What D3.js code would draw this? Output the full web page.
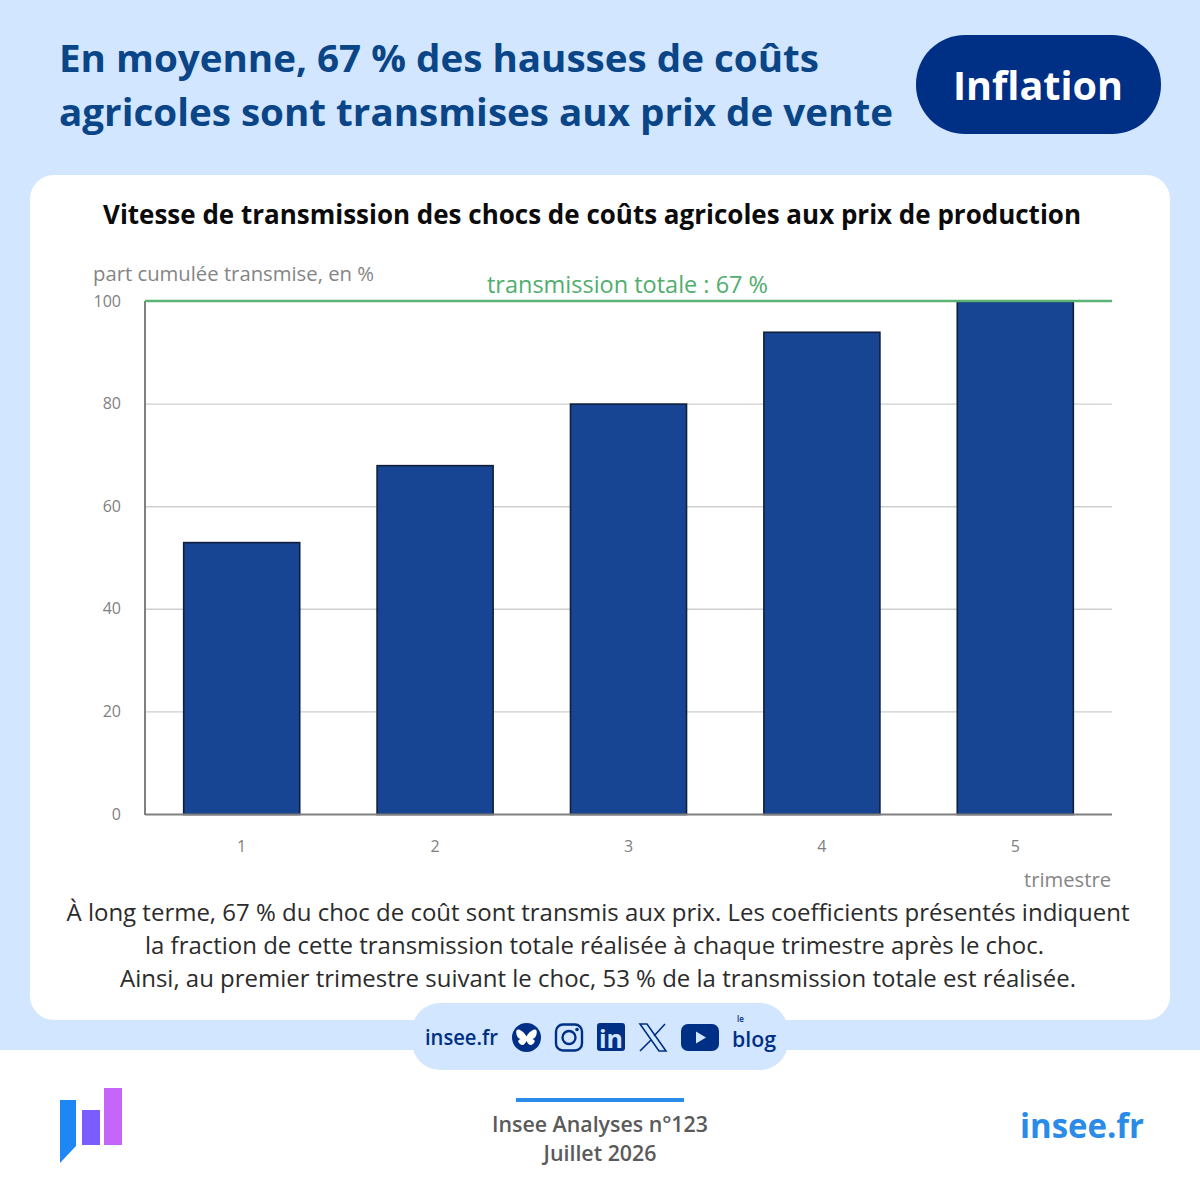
<!DOCTYPE html>
<html>
<head>
<meta charset="utf-8">
<script src="https://cdn.jsdelivr.net/npm/d3@7"></script>
<style>
  html, body { margin: 0; padding: 0; background: #fff; }
  svg { display: block; }
  text { font-family: "Open Sans", sans-serif; }
</style>
</head>
<body>
<div id="chart"></div>
<script>
const trimestres = ["1", "2", "3", "4", "5"];
const partCumulee = [53, 68, 80, 94, 100];
const yTicks = [0, 20, 40, 60, 80, 100];
const titleLines = ["En moyenne, 67 % des hausses de coûts", "agricoles sont transmises aux prix de vente"];
const noteLines = [
  "À long terme, 67 % du choc de coût sont transmis aux prix. Les coefficients présentés indiquent",
  "la fraction de cette transmission totale réalisée à chaque trimestre après le choc.",
  "Ainsi, au premier trimestre suivant le choc, 53 % de la transmission totale est réalisée."
];
const logoBars = [[60, 1100, 1163], [82, 1110, 1145], [104, 1088, 1145]];

const svg = d3.select("#chart").append("svg").attr("width", 1200).attr("height", 1200);

const navy = "#002f86", titleBlue = "#0a4587", pale = "#d2e6ff";

svg.append("rect").attr("width", 1200).attr("height", 1050).attr("fill", pale);
svg.append("rect").attr("x", 30).attr("y", 175).attr("width", 1140).attr("height", 845).attr("rx", 24).attr("fill", "#fff");

// header
svg.selectAll("text.title").data(titleLines).join("text").attr("class", "title")
  .attr("x", 59).attr("y", (d, i) => 72 + i * 54)
  .attr("font-size", 38).attr("font-weight", 700).attr("fill", titleBlue)
  .attr("textLength", (d, i) => i ? 834 : 760).attr("lengthAdjust", "spacingAndGlyphs")
  .text(d => d);

svg.append("rect").attr("x", 916).attr("y", 35).attr("width", 245).attr("height", 99).attr("rx", 49).attr("fill", navy);
svg.append("text").attr("x", 1038).attr("y", 100).attr("text-anchor", "middle")
  .attr("font-size", 40).attr("font-weight", 700).attr("fill", "#fff")
  .attr("textLength", 170).attr("lengthAdjust", "spacingAndGlyphs").text("Inflation");

svg.append("text").attr("x", 592).attr("y", 224).attr("text-anchor", "middle")
  .attr("font-size", 26).attr("font-weight", 700).attr("fill", "#0b0b0b")
  .attr("textLength", 978).attr("lengthAdjust", "spacingAndGlyphs")
  .text("Vitesse de transmission des chocs de coûts agricoles aux prix de production");

// chart
const x = d3.scaleBand().domain(trimestres).range([145, 1112]).paddingInner(0.4).paddingOuter(0.2);
const y = d3.scaleLinear().domain([0, 100]).range([814.5, 301.5]);
const plot = svg.append("g");

plot.selectAll("line.grid").data(yTicks.slice(1, -1)).join("line").attr("class", "grid")
  .attr("x1", 145).attr("x2", 1112).attr("y1", d => y(d)).attr("y2", d => y(d))
  .attr("stroke", "#cfcfcf").attr("stroke-width", 1.4);

plot.selectAll("rect.bar").data(partCumulee).join("rect").attr("class", "bar")
  .attr("x", (d, i) => x(trimestres[i])).attr("width", x.bandwidth())
  .attr("y", d => y(d)).attr("height", d => y(0) - y(d))
  .attr("fill", "#174593").attr("stroke", "#10203c").attr("stroke-width", 1.6);

const axisColor = "#808080";
plot.append("line").attr("x1", 145).attr("x2", 145).attr("y1", 301).attr("y2", 815).attr("stroke", axisColor).attr("stroke-width", 2);
plot.append("line").attr("x1", 145).attr("x2", 1112).attr("y1", 814.5).attr("y2", 814.5).attr("stroke", axisColor).attr("stroke-width", 2);
plot.append("line").attr("x1", 145).attr("x2", 1112).attr("y1", 301).attr("y2", 301).attr("stroke", "#5bb376").attr("stroke-width", 2.4);

plot.selectAll("text.ytick").data(yTicks).join("text").attr("class", "ytick")
  .attr("x", 121).attr("y", d => y(d) + 5).attr("text-anchor", "end")
  .attr("font-size", 16).attr("fill", "#808080").text(d => d);
plot.selectAll("text.xtick").data(trimestres).join("text").attr("class", "xtick")
  .attr("x", d => x(d) + x.bandwidth() / 2).attr("y", 852).attr("text-anchor", "middle")
  .attr("font-size", 16).attr("fill", "#808080").text(d => d);

plot.append("text").attr("x", 93).attr("y", 281).attr("font-size", 20).attr("fill", "#858585")
  .attr("textLength", 281).attr("lengthAdjust", "spacingAndGlyphs").text("part cumulée transmise, en %");
plot.append("text").attr("x", 487).attr("y", 293).attr("font-size", 23).attr("fill", "#4fae6d")
  .attr("textLength", 281).attr("lengthAdjust", "spacingAndGlyphs").text("transmission totale : 67 %");
plot.append("text").attr("x", 1111).attr("y", 887).attr("text-anchor", "end").attr("font-size", 20).attr("fill", "#858585")
  .attr("textLength", 87).attr("lengthAdjust", "spacingAndGlyphs").text("trimestre");

// note
svg.selectAll("text.note").data(noteLines).join("text").attr("class", "note")
  .attr("x", (d, i) => [598, 594.5, 598][i]).attr("y", (d, i) => 921 + i * 33).attr("text-anchor", "middle")
  .attr("font-size", 24).attr("fill", "#2b2b2b")
  .attr("textLength", (d, i) => [1063, 899, 956][i]).attr("lengthAdjust", "spacingAndGlyphs")
  .text(d => d);

// social strip
svg.append("rect").attr("x", 412).attr("y", 1003).attr("width", 376).attr("height", 67).attr("rx", 28).attr("fill", pale);
svg.append("text").attr("x", 425).attr("y", 1045).attr("font-size", 21).attr("font-weight", 600).attr("fill", navy)
  .attr("textLength", 73).attr("lengthAdjust", "spacingAndGlyphs").text("insee.fr");

const icons = svg.append("g");
// bluesky
icons.append("circle").attr("cx", 526.5).attr("cy", 1037.5).attr("r", 14.5).attr("fill", navy);
icons.append("path").attr("fill", "#fff")
  .attr("d", "M526.5 1036.5c-1.5-3-5-6.5-8-7-2-.2-2.5 1.500-2.200 3.500.4 3 1.500 5.500 4.700 6-3 .5-3.500 2.500-1.500 4.500 3 3 5.500 1 7-2.500 1.500 3.500 4 5.500 7 2.500 2-2 1.500-4-1.500-4.500 3.200-.5 4.300-3 4.700-6 .3-2-.2-3.700-2.200-3.500-3 .5-6.500 4-8 7z");
// instagram
icons.append("rect").attr("x", 556).attr("y", 1024.500).attr("width", 26).attr("height", 26).attr("rx", 7).attr("fill", "none").attr("stroke", navy).attr("stroke-width", 2.4);
icons.append("circle").attr("cx", 569).attr("cy", 1037.5).attr("r", 6.5).attr("fill", "none").attr("stroke", navy).attr("stroke-width", 2.4);
icons.append("circle").attr("cx", 577).attr("cy", 1029.5).attr("r", 1.8).attr("fill", navy);
// linkedin
icons.append("rect").attr("x", 597).attr("y", 1023).attr("width", 28).attr("height", 28).attr("rx", 3).attr("fill", navy);
icons.append("text").attr("x", 611).attr("y", 1048).attr("text-anchor", "middle").attr("font-size", 25).attr("font-weight", 700).attr("fill", pale).text("in");
// x
icons.append("path").attr("fill", "none").attr("stroke", navy).attr("stroke-width", 1.6)
  .attr("d", "M640 1024h7l19 27h-7zM665 1024l-11 12M651 1040l-11 11");
// youtube
icons.append("rect").attr("x", 681).attr("y", 1024).attr("width", 38).attr("height", 27).attr("rx", 7).attr("fill", navy);
icons.append("path").attr("fill", pale).attr("d", "M696 1031.500l10 6-10 6z");
// le blog
icons.append("text").attr("x", 737).attr("y", 1022).attr("font-size", 8).attr("font-weight", 600).attr("fill", navy).text("le");
icons.append("text").attr("x", 732).attr("y", 1047).attr("font-size", 21).attr("font-weight", 600).attr("fill", navy)
  .attr("textLength", 44).attr("lengthAdjust", "spacingAndGlyphs").text("blog");

// footer
svg.append("path").attr("fill", "#1f87f5").attr("d", d3.line()([[60, 1100], [76, 1100], [76, 1146], [60, 1163]]) + "Z");
svg.append("rect").attr("x", logoBars[1][0]).attr("y", logoBars[1][1]).attr("width", 18).attr("height", logoBars[1][2] - logoBars[1][1]).attr("fill", "#7a5cff");
svg.append("rect").attr("x", logoBars[2][0]).attr("y", logoBars[2][1]).attr("width", 18).attr("height", logoBars[2][2] - logoBars[2][1]).attr("fill", "#c566fb");

svg.append("rect").attr("x", 516).attr("y", 1098).attr("width", 168).attr("height", 4).attr("fill", "#2b8be8");
svg.append("text").attr("x", 600).attr("y", 1132).attr("text-anchor", "middle").attr("font-size", 22).attr("font-weight", 600).attr("fill", "#5a5a5a")
  .attr("textLength", 216).attr("lengthAdjust", "spacingAndGlyphs").text("Insee Analyses n°123");
svg.append("text").attr("x", 600).attr("y", 1161).attr("text-anchor", "middle").attr("font-size", 22).attr("font-weight", 600).attr("fill", "#5a5a5a")
  .attr("textLength", 113).attr("lengthAdjust", "spacingAndGlyphs").text("Juillet 2026");
svg.append("text").attr("x", 1144).attr("y", 1138).attr("text-anchor", "end").attr("font-size", 34).attr("font-weight", 700).attr("fill", "#2b8be8")
  .attr("textLength", 124).attr("lengthAdjust", "spacingAndGlyphs").text("insee.fr");
</script>
</body>
</html>
